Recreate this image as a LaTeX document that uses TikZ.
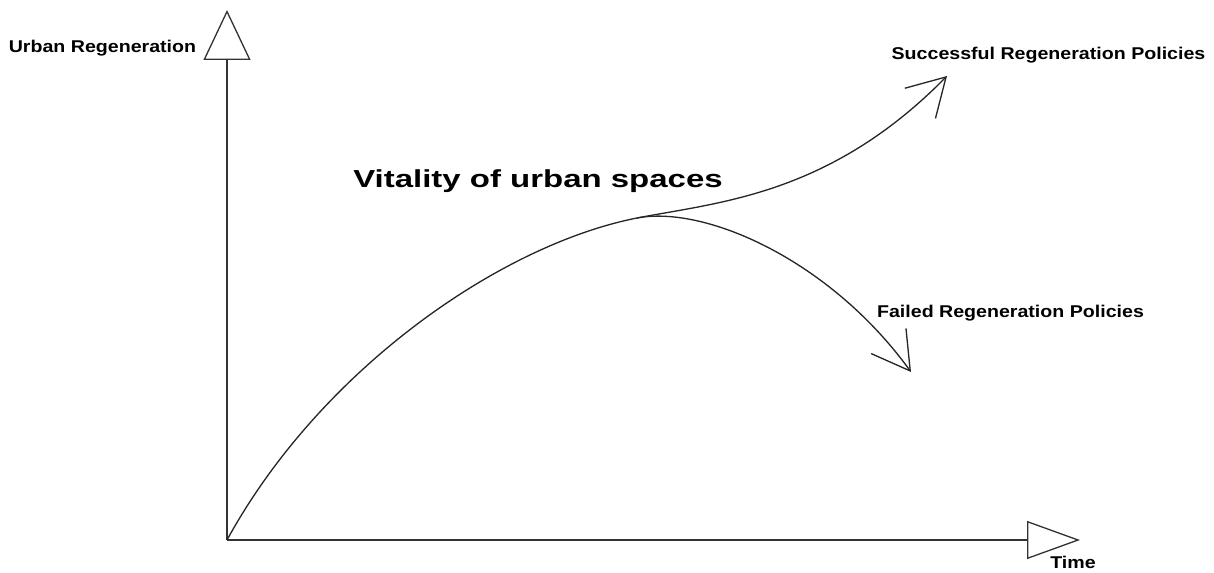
\documentclass[tikz,border=0pt]{standalone}
\usepackage{fontspec}
\setmainfont{Liberation Sans}
\usetikzlibrary{arrows.meta}
\tikzset{
  axis/.style={draw=black!80, line width=0.75pt},
  curve/.style={draw=black!85, line width=0.75pt},
  smalllabel/.style={inner sep=0pt, anchor=base, font=\fontsize{9.7pt}{11pt}\selectfont\bfseries},
  biglabel/.style={inner sep=0pt, anchor=base, font=\fontsize{14pt}{16pt}\selectfont\bfseries},
  barb/.style={-{Straight Barb[length=0.74cm,width=0.86cm,line width=0.75pt]}}
}
\begin{document}
\begin{tikzpicture}[x=0.02cm,y=-0.02cm]
\useasboundingbox (0,0) rectangle (1214,572);
\coordinate (O) at (227,540);
\coordinate (Ytop) at (227,10);
\coordinate (Xend) at (1080,540);
\coordinate (P) at (637,218);
\coordinate (S) at (947,76);
\coordinate (F) at (911,372);
% axes
\draw[axis, -{Triangle[open,length=1cm,width=0.94cm,line width=0.75pt]}] (O) -- (Ytop);
\draw[axis, -{Triangle[open,length=1.06cm,width=0.76cm,line width=0.75pt]}] (O) -- (Xend);
% curves
\draw[curve] (O) .. controls (320,370) and (500,245) .. (P);
\draw[curve, barb] (P) .. controls (720,202) and (830,195) .. (S);
\draw[curve, barb] (P) .. controls (705,205) and (830,260) .. (F);
% labels
\node[smalllabel] (ylab) at (102.5,52) {\scalebox{1.15}[1]{Urban Regeneration}};
\node[smalllabel] (slab) at (1048.5,59) {\scalebox{1.15}[1]{Successful Regeneration Policies}};
\node[smalllabel] (flab) at (1010.5,317) {\scalebox{1.15}[1]{Failed Regeneration Policies}};
\node[smalllabel] (tlab) at (1073,568) {\scalebox{1.15}[1]{Time}};
\node[biglabel] (vlab) at (538,187) {\scalebox{1.34}[1]{Vitality of urban spaces}};
\end{tikzpicture}
\end{document}
